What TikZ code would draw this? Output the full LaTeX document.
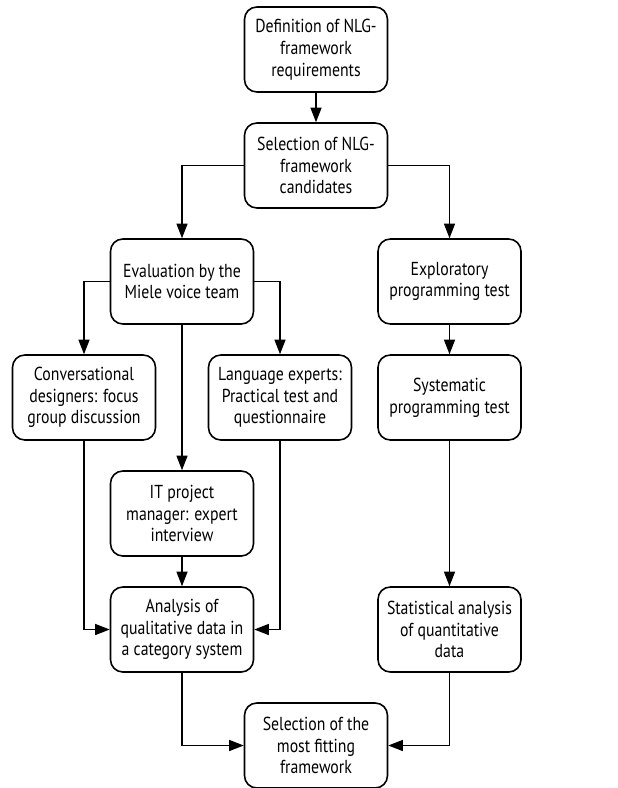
\documentclass[tikz,border=0pt]{standalone}
\usepackage{fontspec}
\setmainfont{PT Sans}[FakeStretch=0.84]
\usepackage{tikz}
\usetikzlibrary{arrows.meta,positioning}

\begin{document}
\begin{tikzpicture}[
  box/.style={draw, line width=0.9pt, rounded corners=7pt, align=center,
    minimum width=2.86cm, minimum height=1.7cm, inner sep=2pt,
    font=\fontsize{10.7}{12.4}\selectfont},
  flow/.style={line width=0.65pt, -{Triangle[length=2.9mm,width=2.2mm]}}
]
\useasboundingbox (0,0) rectangle (12.36,-15.76);
% draw boxes
\node[box] (defreq) at (6.32,-0.99) {Definition of NLG-\\framework\\requirements};
\node[box] (selcand) at (6.32,-3.31) {Selection of NLG-\\framework\\candidates};
\node[box] (evalteam) at (3.64,-5.63) {Evaluation by the\\Miele voice team};
\node[box] (exptest) at (8.99,-5.63) {Exploratory\\programming test};
\node[box] (convdes) at (1.68,-7.95) {Conversational\\designers: focus\\group discussion};
\node[box] (langexp) at (5.6,-7.95) {Language experts:\\Practical test and\\questionnaire};
\node[box] (systest) at (8.99,-7.95) {Systematic\\programming test};
\node[box] (itpm) at (3.64,-10.27) {IT project\\manager: expert\\interview};
\node[box] (qualana) at (3.64,-12.59) {Analysis of\\qualitative data in\\a category system};
\node[box] (statana) at (8.99,-12.59) {Statistical analysis\\of quantitative\\data};
\node[box] (selfinal) at (6.32,-14.91) {Selection of the\\most fitting\\framework};
% draw arrows
\draw[flow] (defreq) -- (selcand);
\draw[flow] (selcand) -| (evalteam);
\draw[flow] (selcand) -| (exptest);
\draw[flow] (evalteam) -| (convdes);
\draw[flow] (evalteam) -| (langexp);
\draw[flow] (evalteam) -- (itpm);
\draw[flow] (exptest) -- (systest);
\draw[flow] (systest) -- (statana);
\draw[flow] (itpm) -- (qualana);
\draw[flow] (convdes) |- (qualana);
\draw[flow] (langexp) |- (qualana);
\draw[flow] (qualana) |- (selfinal);
\draw[flow] (statana) |- (selfinal);
\end{tikzpicture}
\end{document}
